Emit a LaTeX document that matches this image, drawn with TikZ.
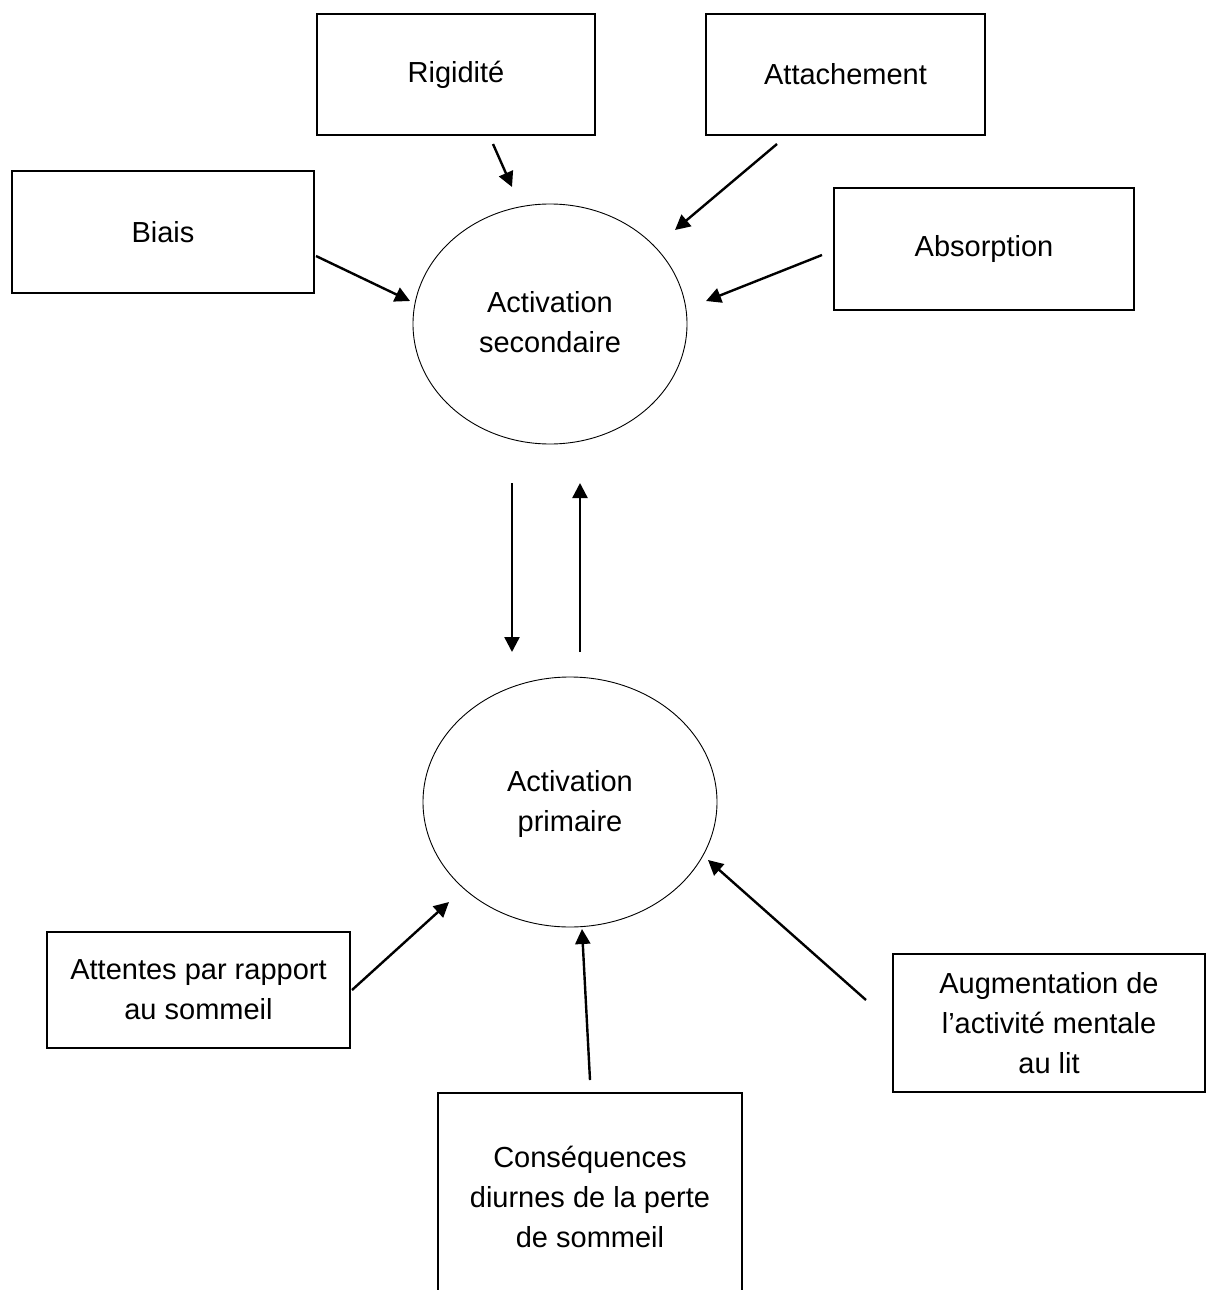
\documentclass[tikz,border=0pt]{standalone}
\usepackage{fontspec}
\setmainfont{Liberation Sans}
\usetikzlibrary{arrows.meta}
\begin{document}
\begin{tikzpicture}[x=1pt,y=-1pt,
  txt/.style={font=\fontsize{29}{40}\selectfont, align=center},
  boxnode/.style={txt, draw, line width=2.4pt, inner sep=0pt},
  ell/.style={txt, draw, ellipse, line width=0.9pt, inner sep=0pt},
  arr/.style={line width=2.4pt, -{Triangle[length=15pt,width=15pt]}}]
\useasboundingbox (0,0) rectangle (1208,1290);
% top boxes
\node[boxnode, minimum width=278pt, minimum height=121pt] (rig) at (456,74.5) {Rigidité};
\node[boxnode, minimum width=279pt, minimum height=121pt] (att) at (845.5,74.5) {Attachement};
\node[boxnode, minimum width=302pt, minimum height=122pt] (bia) at (163,232) {Biais};
\node[boxnode, minimum width=300pt, minimum height=122pt] (abs) at (984,249) {Absorption};
% ellipses
\draw[line width=0.9pt] (550,324) ellipse [x radius=137, y radius=120];
\node[txt] (sec) at (550,322) {Activation\\secondaire};
\draw[line width=0.9pt] (570,802) ellipse [x radius=147, y radius=125];
\node[txt] (pri) at (570,804) {Activation\\primaire};
% bottom boxes
\node[boxnode, minimum width=303pt, minimum height=116pt] (ate) at (198.5,990) {Attentes par rapport\\au sommeil};
\node[boxnode, minimum width=312pt, minimum height=138pt] (aug) at (1049,1023) {Augmentation de\\l’activité mentale\\au lit};
\node[txt] (con) at (590,1197) {Conséquences\\diurnes de la perte\\de sommeil};
\draw[line width=2.4pt] (438,1300) -- (438,1093) -- (742,1093) -- (742,1300);
% connector coordinates
\coordinate (r1) at (493,144); \coordinate (r2) at (512,187);
\coordinate (a1) at (777,144); \coordinate (a2) at (675,230);
\coordinate (b1) at (316,256); \coordinate (b2) at (410,301);
\coordinate (s1) at (822,255); \coordinate (s2) at (706,301);
\coordinate (d1) at (512,483); \coordinate (d2) at (512,652);
\coordinate (u1) at (580,652); \coordinate (u2) at (580,483);
\coordinate (t1) at (352,990); \coordinate (t2) at (449,902);
\coordinate (c1) at (590,1080); \coordinate (c2) at (582,929);
\coordinate (g1) at (866,1000); \coordinate (g2) at (708,860);
\draw[arr] (r1) -- (r2);
\draw[arr] (a1) -- (a2);
\draw[arr] (b1) -- (b2);
\draw[arr] (s1) -- (s2);
\draw[arr] (d1) -- (d2);
\draw[arr] (u1) -- (u2);
\draw[arr] (t1) -- (t2);
\draw[arr] (c1) -- (c2);
\draw[arr] (g1) -- (g2);
\end{tikzpicture}
\end{document}
